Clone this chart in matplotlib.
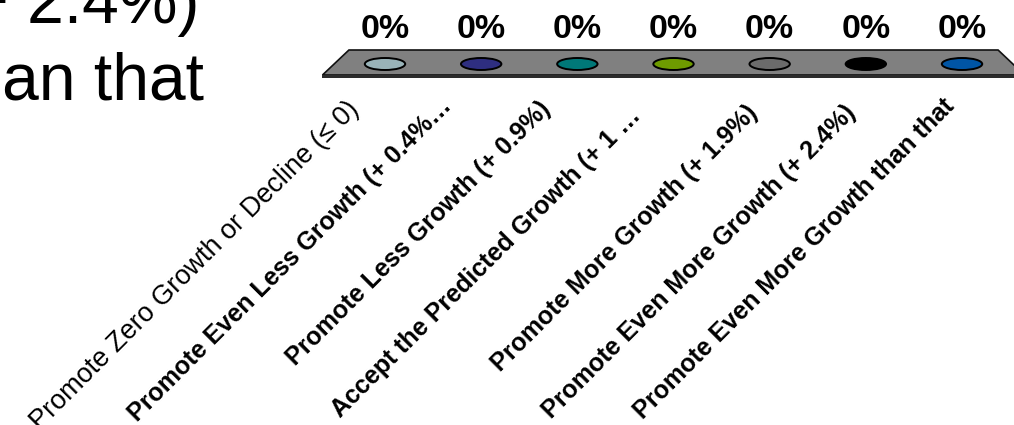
import matplotlib.pyplot as plt
from matplotlib.patches import Polygon, Ellipse

plt.rcParams['font.family'] = ['Liberation Sans', 'DejaVu Sans']

# poll options, share of votes (%) and bar colours
options = [
    'Promote Zero Growth or Decline (≤ 0)',
    'Promote Even Less Growth (+ 0.4%…',
    'Promote Less Growth (+ 0.9%)',
    'Accept the Predicted Growth (+ 1 …',
    'Promote More Growth (+ 1.9%)',
    'Promote Even More Growth (+ 2.4%)',
    'Promote Even More Growth than that',
]
votes = [0, 0, 0, 0, 0, 0, 0]
colors = ['#99b3b8', '#2e2e80', '#007878', '#6e9b00', '#6b6b6b', '#000000', '#0055a5']

# slide text behind the chart (cut off on the left)
slide_lines = ['Promote Even More Growth (+ 2.4%)', 'Promote Even More Growth than that']

fig = plt.figure(figsize=(10.14, 4.25), dpi=100)
ax = fig.add_axes([0, 0, 1, 1])
# x in category units, y in pixels above the floor centre line
px_per_cat = 96.17
ax.set_xlim(-385 / px_per_cat, (1014 - 385) / px_per_cat)
ax.set_ylim(-361, 64)
ax.axis('off')

n = len(options)
mid = (n - 1) / 2
bar_scale = 2.0  # px per percent

# floor (perspective trapezoid) with dark front edge
floor = Polygon([(mid - 3.65, -11), (mid + 3.65, -11), (mid + 3.375, 14), (mid - 3.375, 14)],
                closed=True, facecolor='#808080', edgecolor='#111111', lw=1.2, zorder=1)
ax.add_patch(floor)
edge = Polygon([(mid - 3.65, -11), (mid + 3.7, -11), (mid + 3.7, -14), (mid - 3.65, -14)],
               closed=True, facecolor='#2b2b2b', edgecolor='none', zorder=1)
ax.add_patch(edge)

for i, (v, c) in enumerate(zip(votes, colors)):
    top = v * bar_scale
    ax.add_patch(Ellipse((i, top), 0.42, 12, facecolor=c, edgecolor='black', lw=1.4, zorder=3))
    ax.text(i, top + 26, f'{v:.0f}%', ha='center', va='baseline',
            fontsize=24.5, fontweight='bold', zorder=4)

# small per-label nudges (px right, px down) to follow the original layout
label_shift_px = [(-10, 1), (-17, -1), (-18, 2), (-28, 9), (-11, 6), (-13, 6), (-14, -1)]
for i, lab in enumerate(options):
    dx, dy = label_shift_px[i]
    x = mid + (i - mid) * 1.04 - 0.18 + dx / px_per_cat
    ax.text(x, -31 - dy, lab, rotation=45, rotation_mode='anchor', ha='right', va='top',
            fontsize=19.5 if i == 0 else 18, fontweight='normal' if i == 0 else 'bold',
            color='black')

fig.text(199 / 1014, 1 - 23 / 425, slide_lines[0], ha='right', va='baseline', fontsize=47.5)
fig.text(204 / 1014, 1 - 100 / 425, slide_lines[1], ha='right', va='baseline', fontsize=47.5)

fig.savefig('out.png', dpi=100)
